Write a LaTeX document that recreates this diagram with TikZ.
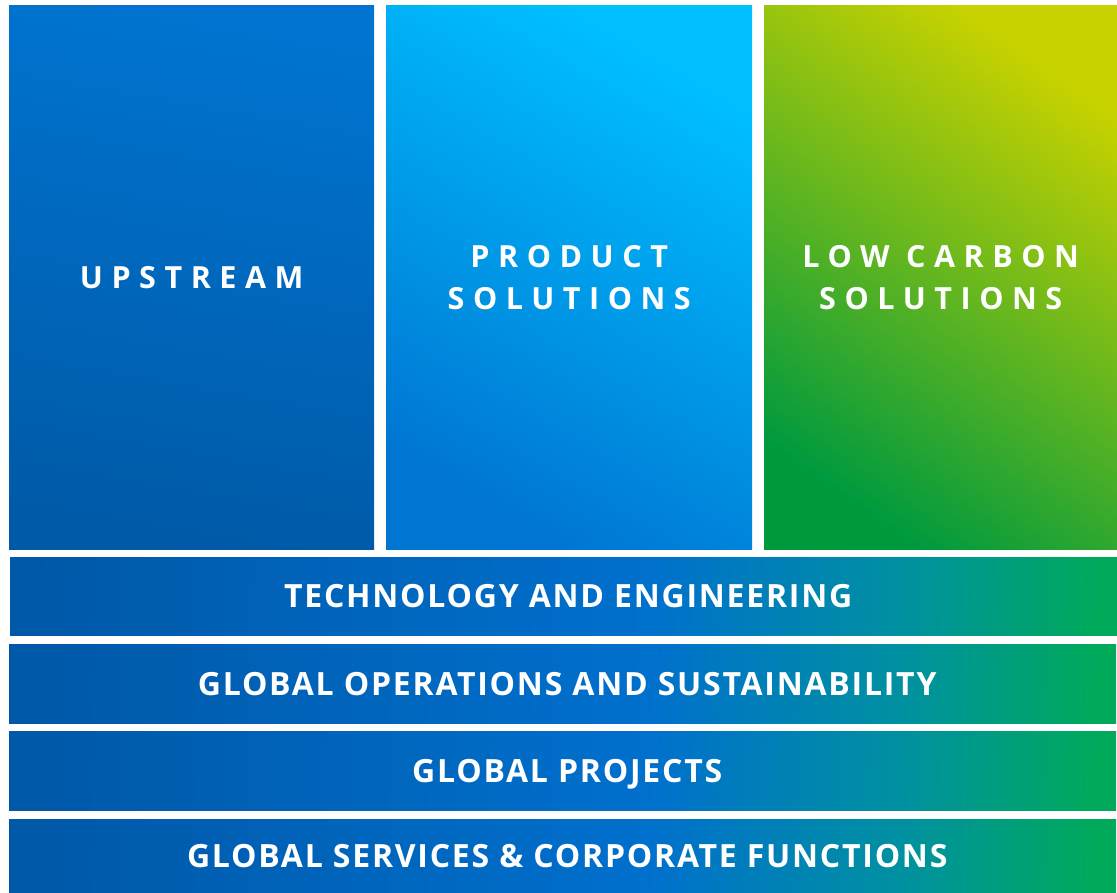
\documentclass[tikz,border=0pt]{standalone}
\usepackage{fontspec}
\setmainfont{Open Sans}
\newfontfamily\topfont[LetterSpace=28]{Open Sans}
\usetikzlibrary{positioning}

\definecolor{upTop}{RGB}{0,116,208}
\definecolor{upBot}{RGB}{0,90,168}
\definecolor{prodTop}{RGB}{0,192,255}
\definecolor{prodMid}{RGB}{0,158,236}
\definecolor{prodBot}{RGB}{0,118,210}
\definecolor{lowTop}{RGB}{200,210,0}
\definecolor{lowMid}{RGB}{126,186,16}
\definecolor{lowBot}{RGB}{0,154,62}
\definecolor{barL}{RGB}{0,88,168}
\definecolor{barM}{RGB}{0,112,205}
\definecolor{barT}{RGB}{0,145,160}
\definecolor{barR}{RGB}{0,170,90}

\pgfdeclarehorizontalshading{barshade}{100bp}{color(0bp)=(barL); color(25bp)=(barL);
  color(54bp)=(barM); color(66bp)=(barT); color(75bp)=(barR); color(100bp)=(barR)}

\begin{document}
\begin{tikzpicture}[x=1pt,y=-1pt,
  top box/.style={rectangle,anchor=north west,inner sep=0pt,minimum width=365pt,
    minimum height=544pt,text=white,align=center,
    font=\fontsize{30.5}{42}\selectfont\topfont\bfseries},
  bar box/.style={rectangle,anchor=north west,inner sep=0pt,minimum width=1107pt,
    shading=barshade,shading angle=-2,text=white,text height=22.8pt,text depth=0pt,
    font=\fontsize{32}{38}\selectfont\bfseries\addfontfeatures{LetterSpace=5.5}}]

  \useasboundingbox (0,0) rectangle (1117,892);

  \node[top box,top color=upTop,bottom color=upBot,shading angle=-10] (up) at (9,5)
    {UPSTREAM};
  \node[top box,minimum width=366pt,top color=prodTop,middle color=prodMid,
    bottom color=prodBot,shading angle=-30] (prod) at (386,5)
    {PRODUCT\\SOLUTIONS};
  \node[top box,minimum width=353pt,top color=lowTop,middle color=lowMid,
    bottom color=lowBot,shading angle=-35] (low) at (764,5)
    {LOW CARBON\\SOLUTIONS};

  \node[bar box,minimum height=78pt] (tech) at (10,557)
    {\hspace*{9pt}TECHNOLOGY AND ENGINEERING};
  \node[bar box,minimum height=79pt] (ops) at (9,644)
    {\hspace*{9pt}GLOBAL OPERATIONS AND SUSTAINABILITY};
  \node[bar box,minimum height=79pt] (proj) at (9,731)
    {\hspace*{9pt}GLOBAL PROJECTS};
  \node[bar box,minimum height=73pt] (serv) at (9,819)
    {\hspace*{9pt}GLOBAL SERVICES \& CORPORATE FUNCTIONS};
\end{tikzpicture}
\end{document}
